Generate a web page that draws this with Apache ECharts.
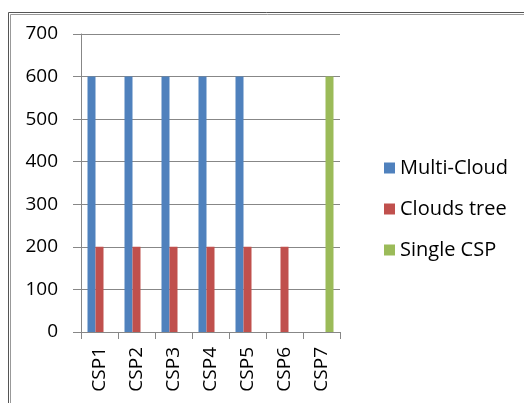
<!DOCTYPE html>
<html>
<head>
<meta charset="utf-8">
<script src="https://cdn.jsdelivr.net/npm/echarts@6/dist/echarts.min.js"></script>
<style>
  html, body { margin: 0; padding: 0; background: #fff; }
  #main { width: 524px; height: 403px; }
</style>
</head>
<body>
<div id="main"></div>
<script>
// categories and values
var categories = ["CSP1", "CSP2", "CSP3", "CSP4", "CSP5", "CSP6", "CSP7"];
var multiCloud = [600, 600, 600, 600, 600, 0, 0];
var cloudsTree = [200, 200, 200, 200, 200, 200, 0];
var singleCsp = [0, 0, 0, 0, 0, 0, 600];
var yTicks = [0, 100, 200, 300, 400, 500, 600, 700];

var seriesNames = ["Multi-Cloud", "Clouds tree", "Single CSP"];
var seriesColors = ["#4F81BD", "#C0504D", "#9BBB59"];
var seriesData = [multiCloud, cloudsTree, singleCsp];

var myChart = echarts.init(document.getElementById("main"));
var font = "'Open Sans', sans-serif";

var series = [];
for (var i = 0; i < seriesData.length; i++) {
  series.push({
    name: seriesNames[i],
    type: "bar",
    data: seriesData[i],
    barWidth: 8,
    barGap: "0%",
    itemStyle: { color: seriesColors[i] }
  });
}

var option = {
  animation: false,
  backgroundColor: "#fff",
  textStyle: { fontFamily: font },
  grid: { left: 81, right: 184, top: 34, bottom: 71 },
  legend: {
    orient: "vertical",
    left: 379,
    top: 153,
    itemWidth: 11,
    itemHeight: 11,
    itemGap: 21,
    icon: "rect",
    textStyle: { fontSize: 20, color: "#000", fontFamily: font },
    data: seriesNames
  },
  xAxis: {
    type: "category",
    data: categories,
    axisLine: { lineStyle: { color: "#878787", width: 1 } },
    axisTick: { show: true, length: 7, lineStyle: { color: "#878787" } },
    axisLabel: { rotate: 90, margin: 15, fontSize: 19, color: "#000", fontFamily: font }
  },
  yAxis: {
    type: "value",
    min: yTicks[0],
    max: yTicks[yTicks.length - 1],
    interval: 100,
    axisLine: { show: true, lineStyle: { color: "#878787", width: 1 } },
    axisTick: { show: true, length: 8, lineStyle: { color: "#878787" } },
    splitLine: { lineStyle: { color: "#878787", width: 1 } },
    axisLabel: { margin: 23, fontSize: 19, color: "#000", fontFamily: font }
  },
  graphic: [
    { type: "rect", shape: { x: 8.5, y: 12.5, width: 700, height: 600 },
      style: { fill: null, stroke: "#555", lineWidth: 1 } },
    { type: "rect", shape: { x: 10.5, y: 14.5, width: 700, height: 600 },
      style: { fill: null, stroke: "#999", lineWidth: 1 } }
  ],
  series: series
};

myChart.setOption(option);
</script>
</body>
</html>
